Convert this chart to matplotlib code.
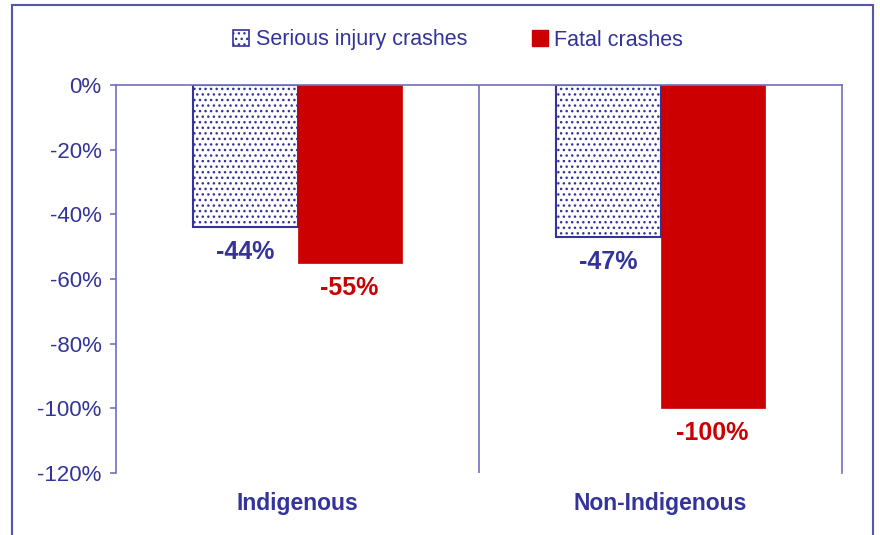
import matplotlib.pyplot as plt
from matplotlib.patches import Patch, Rectangle
import numpy as np

plt.rcParams['font.family'] = ['Liberation Sans', 'DejaVu Sans']
plt.rcParams['hatch.linewidth'] = 1.0

categories = ["Indigenous", "Non-Indigenous"]
series_names = ["Serious injury crashes", "Fatal crashes"]
serious = [-44, -47]
fatal = [-55, -100]
yticks = [0, -20, -40, -60, -80, -100, -120]

blue = '#333399'
red = '#cc0000'
line = '#6f6fbf'

fig = plt.figure(figsize=(8.8, 5.35), dpi=100)
ax = fig.add_axes([116 / 880, 1 - 473 / 535, (842 - 116) / 880, (473 - 85) / 535])

x = np.arange(len(categories))
w = 0.287
b1 = ax.bar(x - w / 2, serious, w, facecolor='white', edgecolor=blue,
            linewidth=1.5, hatch='...')
b2 = ax.bar(x + w / 2, fatal, w, facecolor=red, edgecolor=red, linewidth=0.5)

for xi, v in zip(x - w / 2, serious):
    ax.annotate(f"{v}%", (xi, v), xytext=(0, -18), textcoords='offset points',
                ha='center', va='center', color=blue, fontsize=18, fontweight='bold')
for xi, v in zip(x + w / 2, fatal):
    ax.annotate(f"{v}%", (xi, v), xytext=(0, -18), textcoords='offset points',
                ha='center', va='center', color=red, fontsize=18, fontweight='bold')

ax.set_xlim(-0.5, 1.5)
ax.set_ylim(-120, 0)
ax.set_yticks(yticks)
ax.set_yticklabels([f"{t}%" for t in yticks])
ax.tick_params(axis='y', colors=line, labelcolor=blue, labelsize=16,
               length=4.5, width=1.2, pad=6)
ax.set_xticks(x)
ax.set_xticklabels(categories, fontsize=16.5, fontweight='bold', color=blue)
ax.tick_params(axis='x', length=0, pad=14)

ax.spines['bottom'].set_visible(False)
for s in ['left', 'top', 'right']:
    ax.spines[s].set_color(line)
    ax.spines[s].set_linewidth(1.2)
ax.axvline(0.5, color=line, linewidth=1.2)

handles = [Patch(facecolor='white', edgecolor=blue, hatch='...', linewidth=1.2),
           Patch(facecolor=red, edgecolor=red)]
fig.legend(handles, series_names, loc='center', bbox_to_anchor=(458 / 880, 1 - 40 / 535),
           ncol=2, frameon=False, fontsize=15.5, labelcolor=blue,
           handlelength=0.75, handleheight=0.75, handletextpad=0.3, columnspacing=3.0)

fig.patches.append(Rectangle((12 / 880, -0.02), 861 / 880, 1.02 - 5 / 535,
                             transform=fig.transFigure, fill=False,
                             edgecolor='#5555aa', linewidth=1.5))

fig.savefig('out.png', dpi=100)
